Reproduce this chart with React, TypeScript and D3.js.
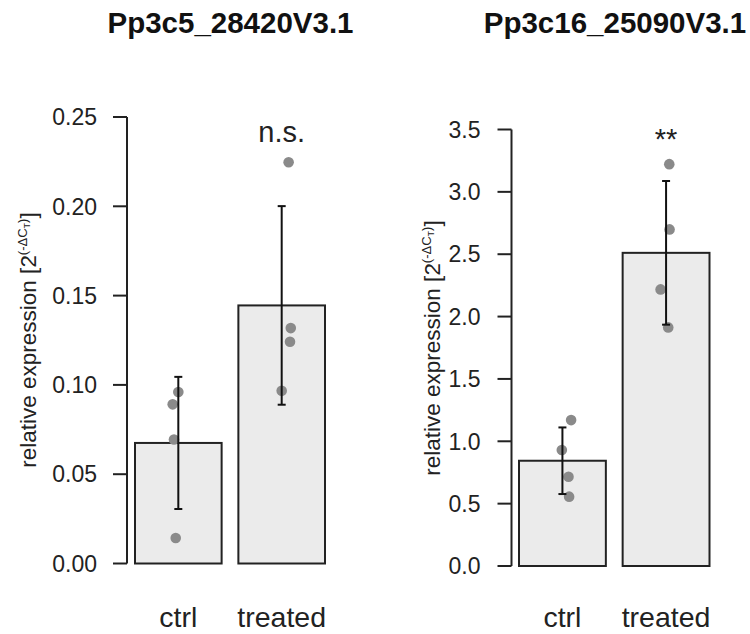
import React from "react";
import * as d3 from "d3";

const categories = ["ctrl", "treated"];

const titles = ["Pp3c5_28420V3.1", "Pp3c16_25090V3.1"];

// Panel 1 (Pp3c5_28420V3.1)
const means1 = [0.0675, 0.1445];
const sd1 = [0.037, 0.0556];
const points1 = [
  [0.096, 0.0891, 0.0694, 0.0143],
  [0.2247, 0.1318, 0.1242, 0.0967],
];
const jitter1 = [
  [0.0, -0.065, -0.05, -0.03],
  [0.08, 0.105, 0.096, 0.0],
];
const yTicks1 = [0, 0.05, 0.1, 0.15, 0.2, 0.25];
const sig1 = "n.s.";

// Panel 2 (Pp3c16_25090V3.1)
const means2 = [0.844, 2.511];
const sd2 = [0.267, 0.576];
const points2 = [
  [1.17, 0.93, 0.716, 0.556],
  [3.222, 2.699, 2.218, 1.913],
];
const jitter2 = [
  [0.1, -0.007, 0.07, 0.077],
  [0.037, 0.04, -0.063, 0.025],
];
const yTicks2 = [0, 0.5, 1.0, 1.5, 2.0, 2.5, 3.0, 3.5];
const sig2 = "**";

const FONT = "'Liberation Sans', Arial, Helvetica, sans-serif";

type PanelProps = {
  title: string;
  titleX: number;
  means: number[];
  sd: number[];
  points: number[][];
  jitter: number[][];
  ticks: number[];
  fmt: string;
  sig: string;
  sigBaseline: number;
  axisX: number;
  yTop: number;
  yBottom: number;
  barRange: [number, number];
  labelGap: number;
  ylabX: number;
  ylabY: number;
};

function Panel(p: PanelProps) {
  const y = d3
    .scaleLinear()
    .domain([0, p.ticks[p.ticks.length - 1]])
    .range([p.yBottom, p.yTop]);
  const x = d3
    .scaleBand<string>()
    .domain(categories)
    .range(p.barRange)
    .paddingInner(0.162)
    .paddingOuter(0);
  const bw = x.bandwidth();
  const f = d3.format(p.fmt);
  const cap = 4;
  return (
    <g fontFamily={FONT}>
      <text
        x={p.titleX}
        y={33}
        textAnchor="middle"
        fontSize={29.5}
        fontWeight="bold"
        fill="#111"
      >
        {p.title}
      </text>
      {/* axis */}
      <line
        x1={p.axisX}
        x2={p.axisX}
        y1={y(0)}
        y2={y(p.ticks[p.ticks.length - 1])}
        stroke="#222"
        strokeWidth={2}
      />
      {p.ticks.map((t) => (
        <g key={t}>
          <line
            x1={p.axisX - 14}
            x2={p.axisX}
            y1={y(t)}
            y2={y(t)}
            stroke="#222"
            strokeWidth={2}
          />
          <text
            x={p.axisX - p.labelGap}
            y={y(t)}
            dy="0.36em"
            textAnchor="end"
            fontSize={23}
            fill="#222"
          >
            {f(t)}
          </text>
        </g>
      ))}
      {/* y label */}
      <text
        transform={`translate(${p.ylabX},${p.ylabY}) rotate(-90)`}
        textAnchor="middle"
        fontSize={22.5}
        fill="#222"
      >
        relative expression [2
        <tspan fontSize={13} dy={-9}>
          (-ΔC
        </tspan>
        <tspan fontSize={9} dy={3}>
          T
        </tspan>
        <tspan fontSize={13} dy={-3}>
          )
        </tspan>
        <tspan fontSize={22.5} dy={9}>
          ]
        </tspan>
      </text>
      {/* bars */}
      {categories.map((c, i) => (
        <rect
          key={c}
          x={x(c)}
          y={y(p.means[i])}
          width={bw}
          height={y(0) - y(p.means[i])}
          fill="#ebebeb"
          stroke="#222"
          strokeWidth={2}
        />
      ))}
      {/* points */}
      {categories.map((c, i) =>
        p.points[i].map((v, j) => (
          <circle
            key={c + j}
            cx={(x(c) as number) + bw / 2 + p.jitter[i][j] * bw}
            cy={y(v)}
            r={5.3}
            fill="#8a8a8a"
          />
        ))
      )}
      {/* error bars */}
      {categories.map((c, i) => {
        const cx = (x(c) as number) + bw / 2;
        const hi = y(p.means[i] + p.sd[i]);
        const lo = y(p.means[i] - p.sd[i]);
        return (
          <g key={c} stroke="#111" strokeWidth={2}>
            <line x1={cx} x2={cx} y1={hi} y2={lo} />
            <line x1={cx - cap} x2={cx + cap} y1={hi} y2={hi} />
            <line x1={cx - cap} x2={cx + cap} y1={lo} y2={lo} />
          </g>
        );
      })}
      {/* significance */}
      <text
        x={(x(categories[1]) as number) + bw / 2}
        y={p.sigBaseline}
        textAnchor="middle"
        fontSize={29}
        fill="#222"
      >
        {p.sig}
      </text>
      {/* x labels */}
      {categories.map((c) => (
        <text
          key={c}
          x={(x(c) as number) + bw / 2}
          y={627}
          textAnchor="middle"
          fontSize={28.5}
          fill="#222"
        >
          {c}
        </text>
      ))}
    </g>
  );
}

export default function App() {
  return (
    <svg
      width={750}
      height={634}
      style={{ position: "absolute", left: 0, top: 0, background: "#fff" }}
    >
      <rect width={750} height={634} fill="#fff" />
      <Panel
        title={titles[0]}
        titleX={230.5}
        means={means1}
        sd={sd1}
        points={points1}
        jitter={jitter1}
        ticks={yTicks1}
        fmt=".2f"
        sig={sig1}
        sigBaseline={142}
        axisX={127}
        yTop={117}
        yBottom={563.5}
        barRange={[135, 325]}
        labelGap={30}
        ylabX={36}
        ylabY={340}
      />
      <Panel
        title={titles[1]}
        titleX={615}
        means={means2}
        sd={sd2}
        points={points2}
        jitter={jitter2}
        ticks={yTicks2}
        fmt=".1f"
        sig={sig2}
        sigBaseline={149}
        axisX={511.5}
        yTop={129.5}
        yBottom={566}
        barRange={[519, 709.5]}
        labelGap={31}
        ylabX={440}
        ylabY={348}
      />
    </svg>
  );
}
